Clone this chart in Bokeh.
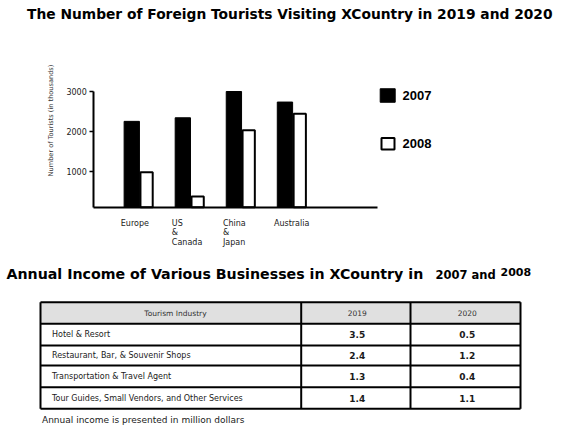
import math
from bokeh.plotting import figure
from bokeh.models import Range1d, LinearAxis, FixedTicker
from bokeh.layouts import column
from bokeh.core.properties import value
from bokeh.embed import file_html
from bokeh.resources import INLINE

# ---------------- data ----------------
regions = ["Europe", "US\n&\nCanada", "China\n&\nJapan", "Australia"]
tourists_2007 = [2250, 2340, 3000, 2735]
tourists_2008 = [1000, 390, 2055, 2465]
y_ticks = [1000, 2000, 3000]
legend_labels = ["2007", "2008"]

table_header = ["Tourism Industry", "2019", "2020"]
industries = ["Hotel & Resort",
              "Restaurant, Bar, & Souvenir Shops",
              "Transportation & Travel Agent",
              "Tour Guides, Small Vendors, and Other Services"]
income_2019 = ["3.5", "2.4", "1.3", "1.4"]
income_2020 = ["0.5", "1.2", "0.4", "1.1"]

title1 = "The Number of Foreign Tourists Visiting XCountry in 2019 and 2020"
title2a = "Annual Income of Various Businesses in XCountry in"
title2b = "2007 and"
title2c = "2008"
footnote = "Annual income is presented in million dollars"
ylabel = "Number of Tourists (in thousands)"

# ---------------- layout / scale constants ----------------
W = 570
H1 = 253
H2 = 430 - H1
PXU = 51.06            # px per category unit
X0 = 1 - 139.7 / PXU
X1 = X0 + W / PXU
PYU = 0.03982          # px per tourist unit
Y1 = 3000 + 91 / PYU
Y0 = Y1 - H1 / PYU
BASE = 95

def fx(px):
    return X0 + px / PXU

def fy(py):
    return Y1 - py / PYU

FONT = value("DejaVu Sans")

p1 = figure(width=W, height=H1, x_range=Range1d(X0, X1), y_range=Range1d(Y0, Y1),
            output_backend="svg", toolbar_location=None,
            x_axis_type=None, y_axis_type=None, min_border=0)
p1.outline_line_color = None
p1.background_fill_color = "white"

AX0 = fx(93.3)
AX1 = fx(376.7)

yax = LinearAxis(fixed_location=AX0, bounds=(BASE, 3000),
                 ticker=FixedTicker(ticks=y_ticks, minor_ticks=[]),
                 axis_line_width=2, axis_line_color="black",
                 major_tick_in=0, major_tick_out=4, major_tick_line_width=1.5,
                 minor_tick_line_color=None,
                 major_label_text_font="DejaVu Sans",
                 major_label_text_font_size="8px",
                 major_label_text_color="#1a1a1a",
                 major_label_standoff=3)
p1.add_layout(yax, "left")

xax = LinearAxis(fixed_location=BASE, bounds=(AX0, AX1),
                 ticker=FixedTicker(ticks=[], minor_ticks=[]),
                 axis_line_width=2, axis_line_color="black",
                 major_tick_line_color=None, minor_tick_line_color=None,
                 major_label_text_font_size="0px")
p1.add_layout(xax, "below")

cat_x = [1, 2, 3, 4]
p1.vbar(x=[c - 0.165 for c in cat_x], width=0.30, top=tourists_2007, bottom=BASE,
        fill_color="black", line_color="black", line_width=1)
p1.vbar(x=[c + 0.125 for c in cat_x], width=0.24, top=[t - 25 for t in tourists_2008], bottom=BASE,
        fill_color="white", line_color="black", line_width=2)

p1.text(x=[c - 0.38 for c in cat_x], y=[fy(218)] * 4, text=regions,
        text_font=FONT, text_font_size="8px", text_color="#1a1a1a",
        text_align="left", text_baseline="top", text_line_height=1.1)

p1.text(x=[fx(50)], y=[fy(120)], text=[ylabel], angle=math.pi / 2,
        text_font=FONT, text_font_size="6.6px", text_color="#333333",
        text_align="center", text_baseline="middle")

p1.text(x=[fx(26.5)], y=[fy(13.3)], text=[title1],
        text_font=FONT, text_font_style="bold", text_font_size="13.8px",
        text_color="black", text_align="left", text_baseline="middle")

# legend
p1.rect(x=[fx(387.2)], y=[fy(95)], width=15, height=13.5, width_units="screen",
        height_units="screen", fill_color="black", line_color="black")
p1.rect(x=[fx(387.5)], y=[fy(143.3)], width=13, height=11.5, width_units="screen",
        height_units="screen", fill_color="white", line_color="black", line_width=2)
p1.text(x=[fx(402), fx(402)], y=[fy(95), fy(143)], text=legend_labels,
        text_font=value("Liberation Sans"), text_font_style="bold", text_font_size="13px",
        text_color="black", text_align="left", text_baseline="middle")

# ---------------- table figure ----------------
p2 = figure(width=W, height=H2, x_range=Range1d(0, W), y_range=Range1d(430, 430 - H2),
            output_backend="svg", toolbar_location=None,
            x_axis_type=None, y_axis_type=None, min_border=0)
p2.outline_line_color = None

p2.text(x=[6], y=[273], text=[title2a], text_font=FONT, text_font_style="bold",
        text_font_size="14.2px", text_color="black", text_align="left", text_baseline="middle")
p2.text(x=[435], y=[274], text=[title2b], text_font=FONT, text_font_style="bold",
        text_font_size="11.5px", text_color="black", text_align="left", text_baseline="middle")
p2.text(x=[500], y=[271.2], text=[title2c], text_font=FONT, text_font_style="bold",
        text_font_size="11px", text_color="black", text_align="left", text_baseline="middle")

TL, TR = 40, 520
C1, C2 = 300.7, 410
rows_y = [301.7, 323.3, 345, 365, 386.7, 408.3]

p2.quad(left=[TL], right=[TR], top=[rows_y[0]], bottom=[rows_y[1]],
        fill_color="#e0e0e0", line_color=None)
p2.segment(x0=[TL] * len(rows_y), x1=[TR] * len(rows_y), y0=rows_y, y1=rows_y,
           line_color="black", line_width=2)
p2.segment(x0=[TL, C1, C2, TR], x1=[TL, C1, C2, TR], y0=[rows_y[0]] * 4, y1=[rows_y[-1]] * 4,
           line_color="black", line_width=2)

hdr_x = [175, 356.7, 466.7]
p2.text(x=hdr_x, y=[312.5] * 3, text=table_header, text_font=FONT, text_font_size="7.5px",
        text_color="#333333", text_align="center", text_baseline="middle")

row_c = [334.3, 355, 375.7, 397.7]
p2.text(x=[51.5] * 4, y=row_c, text=industries, text_font=FONT, text_font_size="8px",
        text_color="#1a1a1a", text_align="left", text_baseline="middle")
p2.text(x=[356.7] * 4, y=row_c, text=income_2019, text_font=FONT, text_font_style="bold",
        text_font_size="9px", text_color="#1a1a1a", text_align="center", text_baseline="middle")
p2.text(x=[466.7] * 4, y=row_c, text=income_2020, text_font=FONT, text_font_style="bold",
        text_font_size="9px", text_color="#1a1a1a", text_align="center", text_baseline="middle")

p2.text(x=[41.5], y=[419], text=[footnote], text_font=FONT, text_font_size="9px",
        text_color="#1a1a1a", text_align="left", text_baseline="middle")

layout = column(p1, p2)
open("out.html", "w").write(file_html(layout, INLINE))
